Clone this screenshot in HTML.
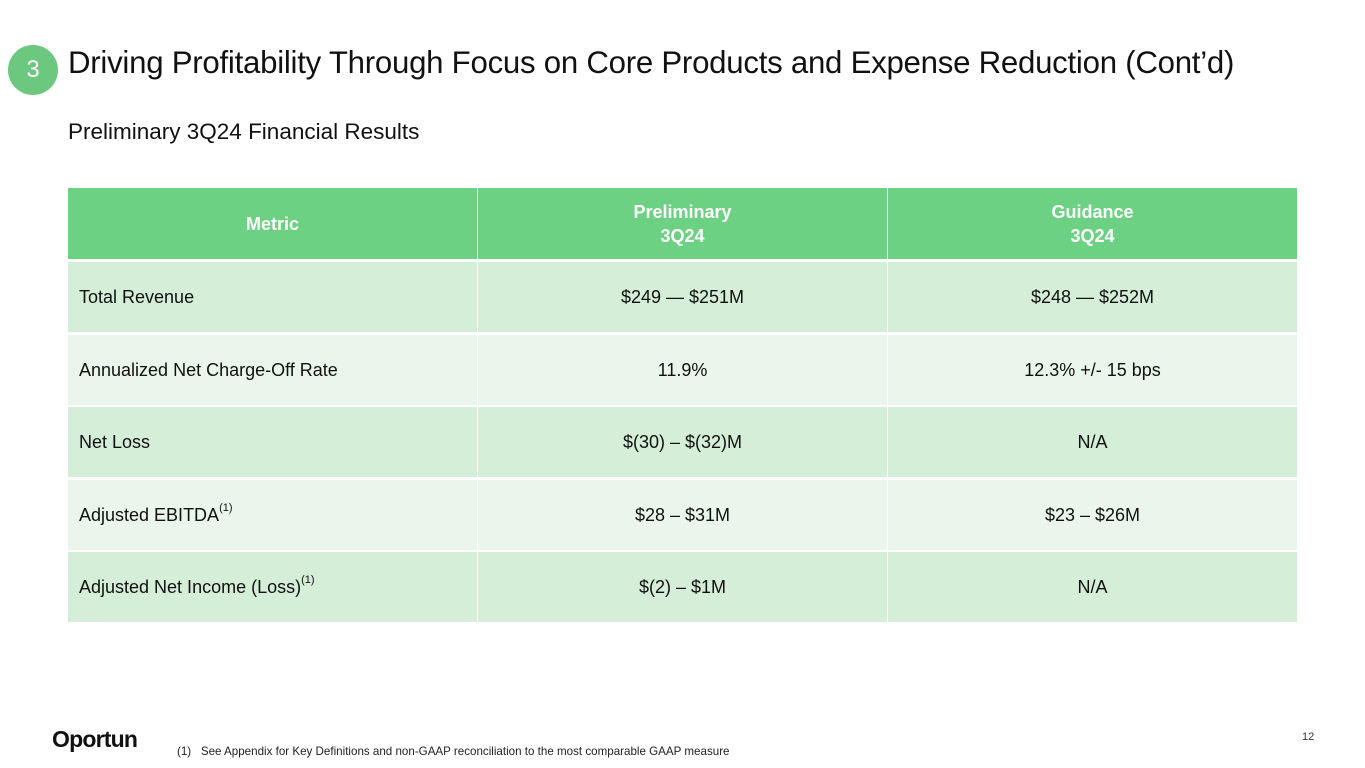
<!DOCTYPE html>
<html><head><meta charset="utf-8"><style>
body{margin:0;width:1365px;height:768px;background:#fff;font-family:"Liberation Sans",sans-serif;position:relative;overflow:hidden;color:#111}
.a{position:absolute}
.cell{position:absolute;display:flex;align-items:center;font-size:18px;box-sizing:border-box}
.c{justify-content:center;text-align:center}
.h{background:#6dd183;color:#fff;font-weight:bold;font-size:18px;line-height:24px}
sup{font-size:11px;position:relative;top:-7px;vertical-align:baseline}
</style></head><body>
<div class="a" style="left:8px;top:45px;width:50px;height:50px;border-radius:50%;background:#6cc77f;color:#fff;font-size:24px;display:flex;align-items:center;justify-content:center">3</div>
<div class="a" style="left:68px;top:45px;font-size:31.2px;white-space:nowrap;letter-spacing:-0.25px">Driving Profitability Through Focus on Core Products and Expense Reduction (Cont’d)</div>
<div class="a" style="left:68px;top:119px;font-size:22.5px">Preliminary 3Q24 Financial Results</div>
<div id="tbl"></div>
<div class="a" style="left:52px;top:726px;font-size:23px;font-weight:bold;letter-spacing:-0.8px">Oportun</div>
<div class="a" style="left:177px;top:745px;font-size:11.6px;color:#222;white-space:nowrap">(1)&nbsp;&nbsp;&nbsp;See Appendix for Key Definitions and non-GAAP reconciliation to the most comparable GAAP measure</div>
<div class="a" style="left:1302px;top:731px;font-size:11px;color:#333">12</div>
<script>
const metrics=["Total Revenue","Annualized Net Charge-Off Rate","Net Loss","Adjusted EBITDA<sup>(1)</sup>","Adjusted Net Income (Loss)<sup>(1)</sup>"];
const prelim=["$249 — $251M","11.9%","$(30) – $(32)M","$28 – $31M","$(2) – $1M"];
const guide=["$248 — $252M","12.3% +/- 15 bps","N/A","$23 – $26M","N/A"];
const headers=["Metric","Preliminary<br>3Q24","Guidance<br>3Q24"];
const t=document.getElementById('tbl');
const cols=[[68,409],[478,409],[888,409]];
function mk(x,y,w,h,html,cls,bg,name){
  const d=document.createElement('div');
  d.className='cell '+cls;
  d.style.left=x+'px';d.style.top=y+'px';d.style.width=w+'px';d.style.height=h+'px';
  if(bg)d.style.background=bg;
  if(cls.indexOf('c')<0)d.style.paddingLeft='11px';
  d.innerHTML=html;
  
  
  t.appendChild(d);
}
headers.forEach((h,i)=>mk(cols[i][0],188,cols[i][1],71,h,'c h',null,'header-cell'));
metrics.forEach((m,r)=>{
  const y=262+Math.round(r*72.6);
  const bg=r%2===0?'#d5eed8':'#eaf6ec';
  mk(cols[0][0],y,cols[0][1],70,m,'',bg,'metric-cell');
  mk(cols[1][0],y,cols[1][1],70,prelim[r],'c',bg,'preliminary-cell');
  mk(cols[2][0],y,cols[2][1],70,guide[r],'c',bg,'guidance-cell');
});
</script>
</body></html>
